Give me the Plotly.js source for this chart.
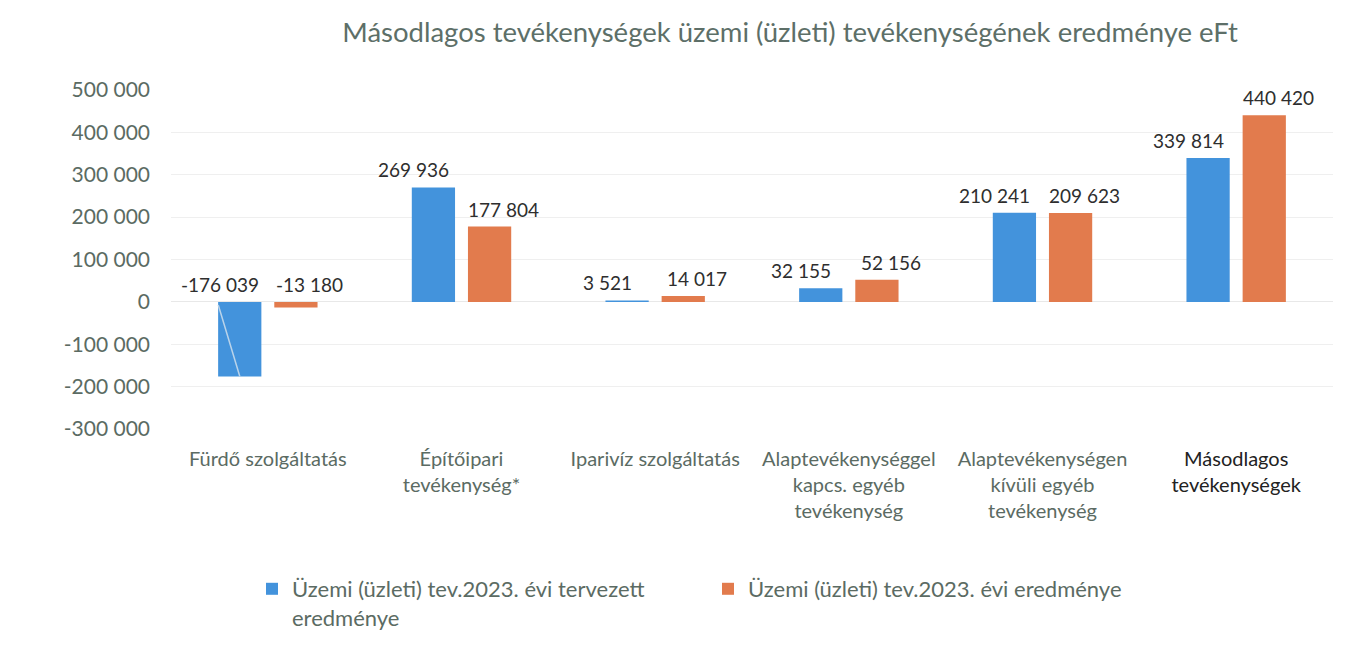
<!DOCTYPE html>
<html>
<head>
<meta charset="utf-8">
<script src="https://cdn.plot.ly/plotly-3.0.1.min.js"></script>
<style>html,body{margin:0;padding:0;background:#fff;}#chart{width:1346px;height:651px;}</style>
</head>
<body>
<div id="chart"></div>
<script>
const categories = [
  "Fürdő szolgáltatás",
  "Építőipari<br>tevékenység*",
  "Iparivíz szolgáltatás",
  "Alaptevékenységgel<br>kapcs. egyéb<br>tevékenység",
  "Alaptevékenységen<br>kívüli egyéb<br>tevékenység",
  "<span style=\"fill:#222\">Másodlagos<br>tevékenységek</span>"
];
const planned = [-176039, 269936, 3521, 32155, 210241, 339814];
const actual = [-13180, 177804, 14017, 52156, 209623, 440420];
const seriesNames = [
  "Üzemi (üzleti) tev.2023. évi tervezett<br>eredménye",
  "Üzemi (üzleti) tev.2023. évi eredménye"
];
const yTicks = [-300000, -200000, -100000, 0, 100000, 200000, 300000, 400000, 500000];

const FONT = "Lato, 'Open Sans', sans-serif";
const BLUE = "#4393dc";
const ORANGE = "#e27b4d";

function fmt(v) {
  const s = Math.abs(v).toString().replace(/\B(?=(\d{3})+(?!\d))/g, " ");
  return (v < 0 ? "-" : "") + s;
}

const traces = [
  {type: "bar", name: seriesNames[0], x: categories, y: planned, marker: {color: BLUE}, hoverinfo: "skip"},
  {type: "bar", name: seriesNames[1], x: categories, y: actual, marker: {color: ORANGE}, hoverinfo: "skip"}
];

const annotations = [];
[planned, actual].forEach((vals, si) => {
  vals.forEach((v, i) => {
    annotations.push({
      x: categories[i], y: Math.max(v, 0), xref: "x", yref: "y",
      text: fmt(v), showarrow: false, yanchor: "bottom",
      xshift: si === 0 ? -48 : 42, yshift: 4,
      font: {family: FONT, size: 19, color: "#2e2e2e"}
    });
  });
});
// leader line for the negative label
annotations.push({
  x: categories[0], y: planned[0], xref: "x", yref: "y", xshift: -28,
  text: "", showarrow: true, arrowhead: 0, arrowwidth: 1.5, arrowcolor: "#b9d3ea",
  ax: -22, ay: -73, standoff: 0, startstandoff: 0
});

const layout = {
  width: 1346, height: 651,
  paper_bgcolor: "#ffffff", plot_bgcolor: "#ffffff",
  separators: ", ",
  margin: {l: 171, r: 13, t: 90, b: 219},
  font: {family: FONT, color: "#5b6b63"},
  title: {
    text: "Másodlagos tevékenységek üzemi (üzleti) tevékenységének eredménye eFt",
    font: {family: FONT, size: 27.5, color: "#5d6f68"},
    x: 0.587, xanchor: "center", xref: "container", y: 0.95, yanchor: "middle", yref: "container"
  },
  barmode: "group", bargap: 0.42, bargroupgap: 0.23,
  xaxis: {
    type: "category", showgrid: false, showline: false, zeroline: false,
    ticks: "", tickfont: {family: FONT, size: 20, color: "#5b6b63"}, automargin: false,
    ticklabelstandoff: 16, fixedrange: true
  },
  yaxis: {
    range: [-300000, 500000], tickvals: yTicks, ticktext: yTicks.map(fmt),
    showgrid: true, gridcolor: "#efefef", gridwidth: 1,
    zeroline: true, zerolinecolor: "#e8e8e8", zerolinewidth: 1,
    showline: false, ticks: "", ticklen: 0, ticklabelstandoff: 20,
    tickfont: {family: FONT, size: 21, color: "#5b6b63"},
    automargin: false, fixedrange: true
  },
  showlegend: true,
  legend: {
    orientation: "h", x: 0.0697, xanchor: "left", y: -0.41, yanchor: "top",
    font: {family: FONT, size: 22, color: "#5b6b63"},
    entrywidth: 411, itemwidth: 30, traceorder: "normal", valign: "top"
  },
  annotations: annotations
};

Plotly.newPlot("chart", traces, layout, {displayModeBar: false, staticPlot: true});
</script>
</body>
</html>
